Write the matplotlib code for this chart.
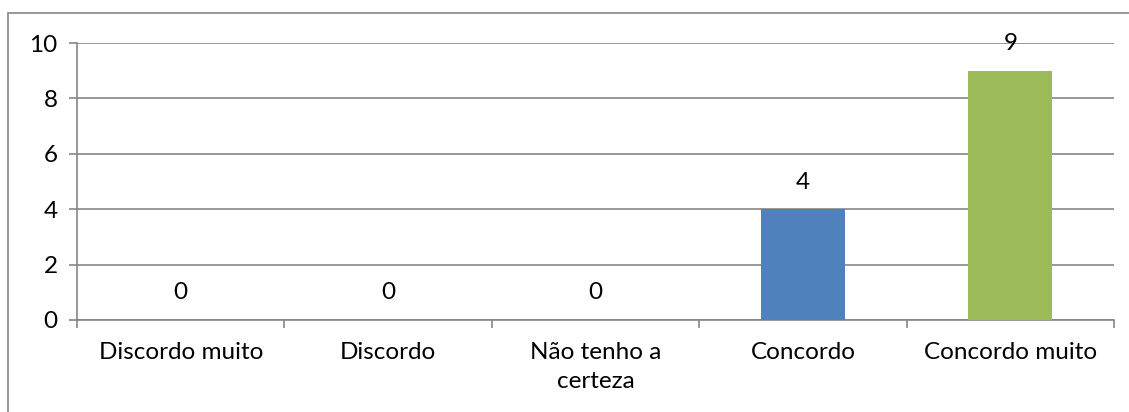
import matplotlib
matplotlib.use("Agg")
import matplotlib.pyplot as plt
from matplotlib.patches import Rectangle
import numpy as np

plt.rcParams['font.family'] = ['Lato', 'DejaVu Sans']

categories = ['Discordo muito', 'Discordo', 'Não tenho a\ncerteza', 'Concordo', 'Concordo muito']
values = [0, 0, 0, 4, 9]
colors = ['#4F81BD', '#4F81BD', '#4F81BD', '#4F81BD', '#9BBB59']
yticks = [0, 2, 4, 6, 8, 10]

grey = '#868686'
fs = 17.5

fig = plt.figure(figsize=(11.29, 4.12), dpi=100)
# outer chart border
fig.patches.append(Rectangle((8 / 1129, -0.2), 1.2, 1 - 13 / 412 + 0.2,
                             transform=fig.transFigure, fill=False,
                             edgecolor=grey, linewidth=1.2))

ax = fig.add_axes([77 / 1129, 1 - 320 / 412, (1114 - 77) / 1129, (320 - 43) / 412])
x = np.arange(len(categories))
ax.bar(x, values, width=0.405, color=colors, zorder=3)

for xi, v in zip(x, values):
    ax.annotate(str(v), (xi, v), xytext=(0, 19.5), textcoords='offset points',
                ha='center', va='center', fontsize=fs, zorder=4)

ax.set_xlim(-0.5, len(categories) - 0.5)
ax.set_ylim(0, 10)
ax.set_yticks(yticks)
ax.set_yticklabels([str(t) for t in yticks], fontsize=fs)
ax.set_xticks(x)
ax.set_xticklabels(categories, fontsize=fs, linespacing=1.45)
ax.set_xticks(np.arange(-0.5, len(categories), 1), minor=True)
ax.tick_params(axis='x', which='major', length=0, pad=16)
ax.tick_params(axis='x', which='minor', length=6, color=grey, width=1.2)
ax.tick_params(axis='y', length=6, color=grey, width=1.2, pad=8)

ax.grid(axis='y', color=grey, linewidth=1.2, zorder=0)
for s in ['top', 'right']:
    ax.spines[s].set_visible(False)
for s in ['left', 'bottom']:
    ax.spines[s].set_color(grey)
    ax.spines[s].set_linewidth(1.2)

plt.savefig('out.png', dpi=100)
